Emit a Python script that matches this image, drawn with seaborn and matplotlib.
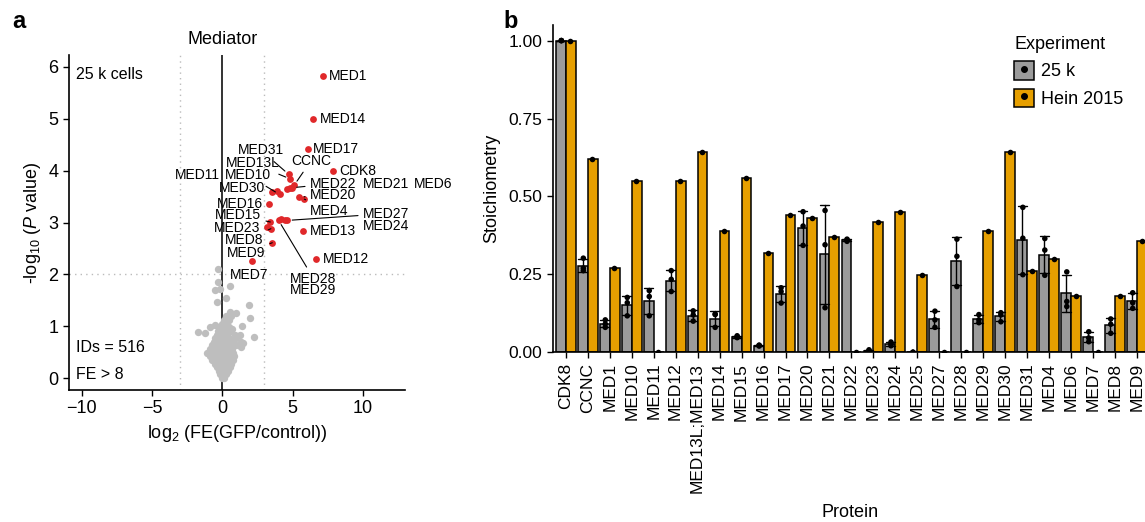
import numpy as np
import pandas as pd
import matplotlib
matplotlib.use("Agg")
import matplotlib.pyplot as plt
import seaborn as sns
from matplotlib.patches import Patch
from matplotlib.lines import Line2D

sns.set_style("ticks")
plt.rcParams["font.family"] = ["Liberation Sans", "DejaVu Sans"]
plt.rcParams["mathtext.fontset"] = "custom"
plt.rcParams["mathtext.rm"] = "Liberation Sans"
plt.rcParams["mathtext.it"] = "Liberation Sans:italic"
plt.rcParams["axes.unicode_minus"] = True
for key in ("text.color", "axes.labelcolor", "xtick.color", "ytick.color"):
    plt.rcParams[key] = "black"

# ---- panel a: volcano data (log2 FE, -log10 P) ----
med_names = ["MED1", "MED14", "MED17", "CDK8", "MED12", "MED13", "MED7", "MED9",
             "MED8", "MED23", "MED15", "MED16", "MED30", "MED11", "MED10", "MED31",
             "MED13L", "MED6", "MED21", "MED22", "CCNC", "MED20", "MED4", "MED28",
             "MED29", "MED24", "MED27"]
med_fe = [7.14, 6.45, 6.07, 7.88, 6.67, 5.77, 2.11, 3.56,
          3.46, 3.18, 3.42, 3.35, 3.53, 3.89, 4.08, 4.72,
          4.84, 4.60, 4.79, 4.96, 5.12, 5.48, 5.84, 4.01,
          4.17, 4.44, 4.63]
med_p = [5.83, 5.00, 4.41, 4.00, 2.30, 2.84, 2.25, 2.61,
         2.88, 2.91, 3.01, 3.36, 3.58, 3.61, 3.54, 3.93,
         3.84, 3.65, 3.66, 3.67, 3.72, 3.49, 3.45, 3.04,
         3.06, 3.04, 3.04]

bg_fe = [-0.33, -0.33, 0.52, -0.14, -0.50, -0.38, 0.28, 1.92, 1.99, 0.57, 1.00,
         1.40, -1.69, -1.21, -0.85, -0.50, 2.23, 1.28, 1.45, 0.50, 1.33, 0.66,
         0.00, 0.15,
         -0.15, 0.05, 0.25,
         -0.25, 0.00, 0.20, 0.40,
         -0.40, -0.10, 0.15, 0.40, 0.55,
         -0.55, -0.25, 0.05, 0.30, 0.60,
         -0.70, -0.40, -0.10, 0.20, 0.45, 0.75,
         -0.90, -0.55, -0.25, 0.05, 0.35, 0.65, 0.85,
         -1.05, -0.70, -0.40, -0.10, 0.20, 0.50, 0.80,
         -0.85, -0.55, -0.20, 0.10, 0.40, 0.70,
         -0.70, -0.35, -0.05, 0.30, 0.60, 1.00,
         -0.60, -0.30, 0.00, 0.35, 0.70, 1.30,
         -0.50, -0.20, 0.15, 0.50, 0.95,
         -0.40, -0.05, 0.30, 0.90,
         -0.30, 0.05, 0.40,
         -0.20, 0.15, 0.45,
         -0.05, 0.30,
         0.10, 0.45,
         0.30, 0.60]
bg_p = [2.10, 1.86, 1.78, 1.72, 1.69, 1.47, 1.54, 1.40, 1.16, 1.27, 1.25,
        1.01, 0.89, 0.86, 0.99, 1.02, 0.79, 0.84, 0.68, 0.89, 0.60, 0.95,
        0.00, 0.00,
        0.07, 0.07, 0.07,
        0.14, 0.14, 0.14, 0.14,
        0.21, 0.21, 0.21, 0.21, 0.21,
        0.28, 0.28, 0.28, 0.28, 0.28,
        0.35, 0.35, 0.35, 0.35, 0.35, 0.35,
        0.42, 0.42, 0.42, 0.42, 0.42, 0.42, 0.42,
        0.49, 0.49, 0.49, 0.49, 0.49, 0.49, 0.49,
        0.56, 0.56, 0.56, 0.56, 0.56, 0.56,
        0.63, 0.63, 0.63, 0.63, 0.63, 0.63,
        0.70, 0.70, 0.70, 0.70, 0.70, 0.70,
        0.77, 0.77, 0.77, 0.77, 0.77,
        0.84, 0.84, 0.84, 0.84,
        0.91, 0.91, 0.91,
        0.98, 0.98, 0.98,
        1.05, 1.05,
        1.12, 1.12,
        1.20, 1.20]

# label placement (x, y, ha, leader line?)
label_pos = {
    "MED1": (7.62, 5.83, "left", False), "MED14": (6.93, 5.00, "left", False),
    "MED17": (6.43, 4.41, "left", False), "CDK8": (8.35, 4.00, "left", False),
    "MED12": (7.17, 2.30, "left", False), "MED13": (6.22, 2.84, "left", False),
    "MED20": (6.22, 3.53, "left", True), "MED4": (6.26, 3.23, "left", True),
    "MED22": (6.22, 3.75, "left", True), "MED21": (9.99, 3.75, "left", False),
    "MED6": (13.6, 3.75, "left", False), "MED27": (9.99, 3.17, "left", True),
    "MED24": (9.99, 2.94, "left", False), "MED28": (4.84, 1.92, "left", True),
    "MED29": (4.84, 1.70, "left", False), "MED7": (0.57, 1.99, "left", False),
    "MED9": (3.06, 2.42, "right", True), "MED8": (2.94, 2.66, "right", True),
    "MED23": (2.70, 2.90, "right", False), "MED15": (2.78, 3.14, "right", True),
    "MED16": (2.87, 3.36, "right", False), "MED30": (3.06, 3.67, "right", False),
    "MED11": (-0.14, 3.91, "right", False), "MED10": (3.46, 3.91, "right", True),
    "MED13L": (4.08, 4.14, "right", True), "MED31": (4.41, 4.39, "right", True),
    "CCNC": (4.89, 4.19, "left", True),
}

# ---- panel b: stoichiometry data ----
proteins = ["CDK8", "CCNC", "MED1", "MED10", "MED11", "MED12", "MED13L;MED13",
            "MED14", "MED15", "MED16", "MED17", "MED20", "MED21", "MED22", "MED23",
            "MED24", "MED25", "MED27", "MED28", "MED29", "MED30", "MED31", "MED4",
            "MED6", "MED7", "MED8", "MED9"]
rep1_25k = [1.00, 0.302, 0.104, 0.176, 0.198, 0.262, 0.133, 0.123, 0.053, 0.023,
            0.207, 0.451, 0.455, 0.363, 0.008, 0.033, 0.0, 0.132, 0.363, 0.121,
            0.127, 0.465, 0.365, 0.258, 0.066, 0.107, 0.191]
rep2_25k = [1.00, 0.270, 0.091, 0.159, 0.179, 0.234, 0.120, 0.121, 0.050, 0.022,
            0.195, 0.405, 0.345, 0.360, 0.005, 0.027, 0.0, 0.104, 0.308, 0.104,
            0.120, 0.366, 0.328, 0.163, 0.046, 0.090, 0.159]
rep3_25k = [1.00, 0.262, 0.080, 0.117, 0.117, 0.195, 0.100, 0.080, 0.047, 0.020,
            0.158, 0.343, 0.143, 0.356, 0.003, 0.021, 0.0, 0.080, 0.211, 0.095,
            0.098, 0.249, 0.247, 0.147, 0.034, 0.061, 0.141]
hein_2015 = [1.00, 0.619, 0.270, 0.550, 0.0, 0.550, 0.641, 0.390, 0.560, 0.320,
             0.440, 0.430, 0.369, 0.0, 0.419, 0.449, 0.249, 0.0, 0.0, 0.390,
             0.641, 0.260, 0.300, 0.181, 0.0, 0.181, 0.358]
experiments = ["25 k", "Hein 2015"]
bar_colors = ["#9B9B9B", "#E69F00"]

rows = []
for reps in (rep1_25k, rep2_25k, rep3_25k):
    for prot, v in zip(proteins, reps):
        rows.append((prot, "25 k", v))
for prot, v in zip(proteins, hein_2015):
    rows.append((prot, "Hein 2015", v))
df = pd.DataFrame(rows, columns=["Protein", "Experiment", "Stoichiometry"])

W, H = 1145, 522
fig = plt.figure(figsize=(W / 100, H / 100), dpi=100)

# ================= panel a =================
ax = fig.add_axes([69 / W, 1 - 390 / H, 336 / W, 335 / H])
ax.set_xlim(-10.9, 13.0)
ax.set_ylim(-0.23, 6.23)
ax.axvline(0, color="#333333", lw=1.4, zorder=1)
for xv in (-3, 3):
    ax.axvline(xv, color="#BBBBBB", lw=1.0, ls=(0, (1, 3)), zorder=0)
ax.axhline(2, color="#BBBBBB", lw=1.0, ls=(0, (1, 3)), zorder=0)

sns.scatterplot(x=bg_fe, y=bg_p, color="#BEBEBE", s=28, linewidth=0, ax=ax, zorder=2)
sns.scatterplot(x=med_fe, y=med_p, color="#E0282A", s=24, linewidth=0, ax=ax, zorder=3)

pts = dict(zip(med_names, zip(med_fe, med_p)))
for name, (lx, ly, ha, leader) in label_pos.items():
    px, py = pts[name]
    if leader:
        ax.annotate(name, xy=(px, py), xytext=(lx, ly), ha=ha, va="center",
                    fontsize=10, annotation_clip=False,
                    arrowprops=dict(arrowstyle="-", color="black", lw=0.8,
                                    shrinkA=1, shrinkB=3.5))
    else:
        ax.text(lx, ly, name, ha=ha, va="center", fontsize=10, clip_on=False)

ax.text(-10.4, 5.85, "25 k cells", fontsize=11.5, va="center")
ax.text(-10.4, 0.58, "IDs = 516", fontsize=11.5, va="center")
ax.text(-10.4, 0.07, "FE > 8", fontsize=11.5, va="center")
ax.annotate("Mediator", xy=(0, 1), xycoords=("data", "axes fraction"),
            xytext=(0, 5), textcoords="offset points", ha="center", va="bottom",
            fontsize=13)

ax.set_xticks([-10, -5, 0, 5, 10])
ax.set_yticks([0, 1, 2, 3, 4, 5, 6])
ax.set_xlabel("log$_2$ (FE(GFP/control))", fontsize=13)
ax.set_ylabel("-log$_{10}$ ($P$ value)", fontsize=13)
ax.tick_params(labelsize=13, length=4, width=1.0, color="black")
for s in ("top", "right"):
    ax.spines[s].set_visible(False)
for s in ("left", "bottom"):
    ax.spines[s].set_linewidth(1.2)
    ax.spines[s].set_color("black")

# ================= panel b =================
bx = fig.add_axes([553 / W, 1 - 352.3 / H, 594 / W, 327.3 / H])
sns.barplot(data=df, x="Protein", y="Stoichiometry", hue="Experiment",
            order=proteins, hue_order=experiments, palette=bar_colors,
            saturation=1, errorbar="sd", capsize=0.8, width=0.9,
            err_kws={"color": "black", "linewidth": 1.0},
            edgecolor="black", linewidth=1.1, legend=False, ax=bx)
sns.stripplot(data=df, x="Protein", y="Stoichiometry", hue="Experiment",
              order=proteins, hue_order=experiments, palette=["black", "black"],
              dodge=True, jitter=False, size=4, legend=False, ax=bx, zorder=4)
bx.set_xlim(-0.58, 26.45)
bx.set_ylim(0, 1.05)
bx.set_yticks([0, 0.25, 0.5, 0.75, 1.0])
bx.set_yticklabels(["0.00", "0.25", "0.50", "0.75", "1.00"])
bx.tick_params(axis="x", labelrotation=90)
bx.tick_params(labelsize=12.5, length=4, width=1.0, color="black")
bx.set_xlabel("Protein", fontsize=13, labelpad=8)
bx.set_ylabel("Stoichiometry", fontsize=13, labelpad=6)
for s in ("top", "right"):
    bx.spines[s].set_visible(False)
for s in ("left", "bottom"):
    bx.spines[s].set_linewidth(1.2)
    bx.spines[s].set_color("black")

handles = [(Patch(facecolor=c, edgecolor="black", linewidth=1.1),
            Line2D([], [], marker="o", color="black", ls="", markersize=4))
           for c in bar_colors]
fig.legend(handles, experiments, title="Experiment", loc="upper left",
           bbox_to_anchor=(1014 / W, 1 - 36 / H), frameon=False, fontsize=13,
           title_fontsize=13, alignment="left", handlelength=1.1,
           handleheight=1.2, handletextpad=0.4, labelspacing=0.45,
           borderaxespad=0, borderpad=0)

fig.text(12 / W, 1 - 22 / H, "a", fontsize=17, fontweight="bold", va="center")
fig.text(503 / W, 1 - 22 / H, "b", fontsize=17, fontweight="bold", va="center")

fig.savefig("out.png", dpi=100)
